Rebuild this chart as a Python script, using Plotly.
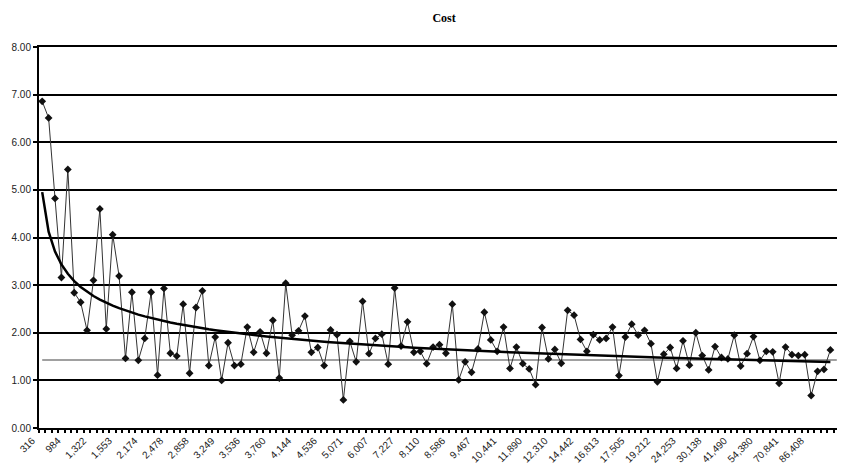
import numpy as np
import plotly.graph_objects as go

tick_labels = ["316", "984", "1,322", "1,553", "2,174", "2,478", "2,858", "3,249",
               "3,536", "3,760", "4,144", "4,536", "5,071", "6,007", "7,227", "8,110",
               "8,586", "9,467", "10,441", "11,890", "12,310", "14,442", "16,813",
               "17,505", "19,212", "24,253", "30,138", "41,490", "54,380", "70,841",
               "86,408"]

cost = [6.86, 6.51, 4.82, 3.16, 5.43, 2.84, 2.64, 2.05, 3.10, 4.60,
        2.08, 4.06, 3.19, 1.46, 2.85, 1.42, 1.88, 2.85, 1.11, 2.93,
        1.57, 1.51, 2.60, 1.15, 2.53, 2.88, 1.31, 1.91, 1.00, 1.79,
        1.31, 1.34, 2.12, 1.59, 2.02, 1.57, 2.26, 1.05, 3.04, 1.95,
        2.04, 2.35, 1.59, 1.69, 1.31, 2.06, 1.96, 0.59, 1.82, 1.39,
        2.66, 1.56, 1.88, 1.97, 1.34, 2.94, 1.72, 2.23, 1.59, 1.61,
        1.35, 1.70, 1.75, 1.57, 2.60, 1.01, 1.39, 1.17, 1.66, 2.43,
        1.85, 1.61, 2.12, 1.25, 1.70, 1.35, 1.24, 0.91, 2.11, 1.45,
        1.65, 1.36, 2.47, 2.37, 1.86, 1.61, 1.96, 1.85, 1.88, 2.12,
        1.10, 1.91, 2.18, 1.95, 2.05, 1.77, 0.97, 1.55, 1.69, 1.25,
        1.83, 1.32, 2.00, 1.52, 1.22, 1.71, 1.48, 1.45, 1.95, 1.30,
        1.56, 1.92, 1.42, 1.61, 1.60, 0.94, 1.70, 1.54, 1.52, 1.54,
        0.68, 1.19, 1.23, 1.64]

reference_level = 1.43
label_step = 4
n_categories = 125

idx = np.arange(len(cost))
# power trendline (Excel-style least squares on logs, x = 1..n)
xs = idx + 1.0
b, lna = np.polyfit(np.log(xs), np.log(np.array(cost)), 1)
trend = np.exp(lna) * xs ** b

fig = go.Figure()
fig.add_trace(go.Scatter(
    x=[0, n_categories - 1], y=[reference_level, reference_level],
    mode="lines", line=dict(color="#808080", width=1.5),
    hoverinfo="skip", showlegend=False))
fig.add_trace(go.Scatter(
    x=idx, y=cost, mode="lines+markers",
    line=dict(color="#333333", width=1),
    marker=dict(symbol="diamond", size=6, color="#111111"),
    showlegend=False, name="Cost"))
fig.add_trace(go.Scatter(
    x=idx, y=trend, mode="lines", line=dict(color="black", width=2.5),
    hoverinfo="skip", showlegend=False))

# page body has an 8px margin, so the figure is sized/offset to compensate
fig.update_layout(
    width=837, height=460,
    margin=dict(l=31, r=3, t=39, b=40),
    paper_bgcolor="white", plot_bgcolor="white",
    title=dict(text="<b>Cost</b>", x=0.521, xanchor="center", y=0.978, yanchor="middle",
               font=dict(family="Liberation Serif, Times New Roman, serif", size=12, color="black")),
    font=dict(family="Liberation Sans, Arial, sans-serif", size=10, color="#222222"),
)
fig.update_xaxes(
    range=[-0.5, n_categories - 0.5],
    tickmode="array",
    tickvals=list(range(0, len(tick_labels) * label_step, label_step)),
    ticktext=tick_labels,
    tickangle=-45,
    ticklabelshift=-10, ticklabelstandoff=1,
    ticks="", showgrid=False, zeroline=False,
    showline=True, linecolor="black", linewidth=2, mirror=True,
    minor=dict(ticks="outside", ticklen=3, tickwidth=1.5, tickcolor="black",
               tick0=-0.5, dtick=1, showgrid=False),
    tickfont=dict(size=10, color="#222222"),
)
fig.update_yaxes(
    range=[0, 8], tickmode="array", tickvals=list(range(0, 9)),
    tickformat=".2f",
    ticks="outside", ticklen=4, tickwidth=1.5, tickcolor="black",
    showgrid=True, gridcolor="black", gridwidth=2, zeroline=False,
    showline=True, linecolor="black", linewidth=2, mirror=True,
    tickfont=dict(size=10, color="#222222"),
)
fig.write_html("out.html")
